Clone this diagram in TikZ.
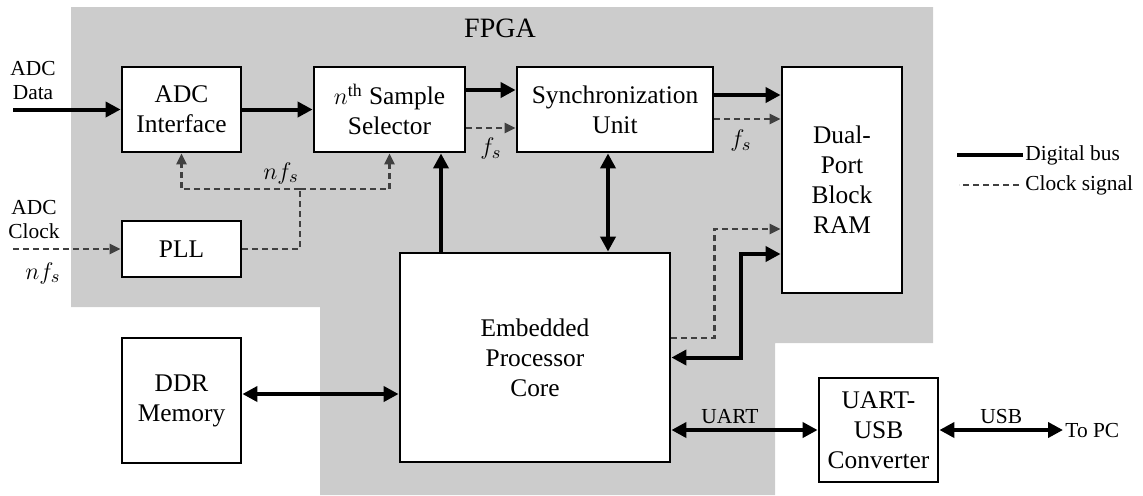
\documentclass[tikz,border=0pt]{standalone}
\usepackage{fontspec}
\setmainfont{Liberation Serif}
\usepackage{amsmath}
\usetikzlibrary{arrows.meta}
\definecolor{fpgabg}{HTML}{CCCCCC}
\definecolor{clkc}{HTML}{404040}
\tikzset{
  blk/.style={draw,line width=1.4pt,fill=white,align=center,inner sep=2pt,font=\rmfamily\fontsize{12.7}{15}\selectfont},
  lbl/.style={align=center,inner sep=1pt,font=\rmfamily\fontsize{10.7}{12}\selectfont},
  mlbl/.style={inner sep=0pt,text=black,font=\fontsize{12.5}{15}\selectfont},
  bus/.style={line width=2pt},
  busar/.style={bus,-{Triangle[length=7.5pt,width=7.5pt]}},
  busbi/.style={bus,{Triangle[length=7.5pt,width=7.5pt]}-{Triangle[length=7.5pt,width=7.5pt]}},
  clk/.style={line width=1.3pt,clkc,dash pattern=on 3pt off 2pt},
  clkar/.style={clk,-{Triangle[length=5.5pt,width=5pt]}}
}
\begin{document}
\begin{tikzpicture}[x=0.5pt,y=-0.5pt]
\useasboundingbox (0,0) rectangle (1143,495);
% FPGA fabric
\fill[fpgabg] (71,7) -- (933,7) -- (933,343) -- (775,343) -- (775,495) -- (320,495) -- (320,307) -- (71,307) -- cycle;
\node[font=\rmfamily\fontsize{14}{16}\selectfont] (fpga) at (500,28) {FPGA};

% blocks
\node[blk,minimum width=59.5pt,minimum height=42.5pt] (adc) at (181.5,109.5) {ADC\\Interface};
\node[blk,minimum width=75.5pt,minimum height=42.5pt] (sel) at (389.5,109.5) {$n^{\mathrm{th}}$ Sample\\Selector};
\node[blk,minimum width=98pt,minimum height=42.5pt] (sync) at (615,109.5) {Synchronization\\Unit};
\node[blk,minimum width=60pt,minimum height=113pt] (ram) at (842,180) {Dual-\\Port\\Block\\RAM};
\node[blk,minimum width=59.5pt,minimum height=28pt] (pll) at (181.5,249) {PLL};
\node[blk,minimum width=59.5pt,minimum height=62.5pt] (ddr) at (181.5,400.5) {DDR\\Memory};
\node[blk,minimum width=135pt,minimum height=104.5pt] (cpu) at (535,357.5) {Embedded\\Processor\\Core};
\node[blk,minimum width=59.5pt,minimum height=52pt] (conv) at (878.5,430) {UART-\\USB\\Converter};

% ADC inputs
\coordinate (din) at (13,109.5);
\coordinate (cin) at (13,249);
\node[lbl] (dinlbl) at (33,81) {ADC\\Data};
\node[lbl] (cinlbl) at (34,220) {ADC\\Clock};
\node[mlbl] (cinf) at (43,273) {$nf_s$};
\draw[busar] (din) -- (adc.west);
\draw[clkar] (cin) -- (pll.west);

% sample path
\draw[busar] (adc) -- (sel);
\draw[busar] ([yshift=9.75pt]sel.east) -- ([yshift=9.75pt]sel.east -| sync.west);
\draw[clkar] ([yshift=-9.25pt]sel.east) -- ([yshift=-9.25pt]sel.east -| sync.west)
  node[mlbl,midway,below=4.5pt] {$f_s$};
\draw[busar] ([yshift=7.25pt]sync.east) -- ([yshift=7.25pt]sync.east -| ram.west);
\draw[clkar] ([yshift=-4.75pt]sync.east) -- ([yshift=-4.75pt]sync.east -| ram.west)
  node[mlbl,pos=0.4,below=5pt] {$f_s$};

% PLL clock out
\coordinate (nfj) at (300,189);
\draw[clk] (pll.east) -| (nfj);
\draw[clkar] (nfj) -| (adc.south);
\draw[clkar] (nfj) -| (sel.south);
\node[mlbl] (nflbl) at (281,173) {$nf_s$};

% processor links
\draw[busar] ([xshift=-47pt]cpu.north) -- ([xshift=-47pt]cpu.north |- sel.south);
\draw[busbi] ([xshift=-3.5pt]sync.south) -- ([xshift=-3.5pt]sync.south |- cpu.north);
\draw[clkar] ([yshift=9.75pt]cpu.east) -- ++(21.5pt,0) |- ([yshift=-24.5pt]ram.west);
\draw[busbi] (cpu.east) -- ++(35pt,0) |- ([yshift=-37pt]ram.west);
\draw[busbi] ([yshift=3.25pt]ddr.east) -- ([yshift=3.25pt]ddr.east -| cpu.west);
\draw[busbi] (conv.west) -- (conv.west -| cpu.east) node[lbl,pos=0.6,above=1pt] {UART};
\node[lbl,anchor=west] (pc) at (1063,430) {To PC};
\draw[busbi] (conv.east) -- (pc.west) node[lbl,midway,above=1pt] {USB};

% legend
\node[lbl,anchor=west] (legbus) at (1023,155) {Digital bus};
\node[lbl,anchor=west] (legclk) at (1023,185) {Clock signal};
\draw[bus] (legbus.west) -- ++(-33pt,0);
\draw[clk] ([xshift=-2pt]legclk.west) -- ++(-30pt,0);
\end{tikzpicture}
\end{document}
